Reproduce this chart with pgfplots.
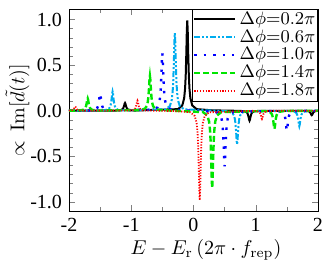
\documentclass[border=0pt]{standalone}
\usepackage{fontspec}
\usepackage{pgfplots}
\pgfplotsset{compat=1.18}
\newfontfamily\tickfont{Liberation Serif}
\begin{document}
\begin{tikzpicture}
\begin{axis}[
  at={(0,0)}, anchor=south west,
  scale only axis, width=124.5pt, height=101pt,
  xmin=-2, xmax=2, ymin=-1.1, ymax=1.115,
  xtick={-2,-1,0,1,2}, xticklabels={-2,-1,0,1,2},
  ytick={-1,-0.5,0,0.5,1}, yticklabels={-1.0,-0.5,0.0,0.5,1.0},
  minor x tick num=1, minor y tick num=4,
  tick align=inside,
  major tick length=3pt, minor tick length=1.8pt,
  tick label style={font=\tickfont\fontsize{10}{11}\selectfont},
  xlabel={$E-E_\mathrm{r}\,(2\pi\cdot f_\mathrm{rep})$},
  ylabel={$\propto\,\mathrm{Im}[\tilde{d}(t)]$},
  xlabel style={at={(axis description cs:0.55,0)}, anchor=center, yshift=-19.5pt},
  ylabel style={at={(axis description cs:-0.207,0.5)}, anchor=center},
  legend style={at={(1,1)}, anchor=north east, draw=black, font=\fontsize{9}{9}\selectfont,
    inner sep=0.5pt, row sep=0pt, column sep=1pt, nodes={inner sep=0.6pt}, cells={anchor=west}},
  legend image code/.code={\draw[#1] plot coordinates {(0cm,0cm) (0.72cm,0cm)};},
]
% 0.2 pi
\addplot[black, line width=1pt] coordinates {
(-2,0)
(-1.25,0.0015)(-1.18,0.005)(-1.15,0.012)(-1.135,0.021)(-1.125,0.033)(-1.115,0.054)(-1.107,0.076)(-1.1,0.085)(-1.093,0.076)(-1.085,0.054)(-1.075,0.033)(-1.065,0.021)(-1.05,0.012)(-1.02,0.005)(-0.95,0.0015)
(-0.25,0.017)(-0.18,0.058)(-0.15,0.137)(-0.135,0.244)(-0.125,0.386)(-0.115,0.634)(-0.107,0.882)(-0.1,0.99)(-0.093,0.882)(-0.085,0.634)(-0.075,0.386)(-0.065,0.244)(-0.05,0.137)(-0.02,0.058)(0.05,0.017)(0.3,0.004)
(0.75,-0.002)(0.82,-0.006)(0.85,-0.015)(0.865,-0.027)(0.875,-0.043)(0.885,-0.070)(0.893,-0.098)(0.9,-0.11)(0.907,-0.098)(0.915,-0.070)(0.925,-0.043)(0.935,-0.027)(0.95,-0.015)(0.98,-0.006)(1.05,-0.002)
(1.75,-0.001)(1.82,-0.003)(1.85,-0.007)(1.865,-0.012)(1.875,-0.020)(1.885,-0.032)(1.893,-0.045)(1.9,-0.05)(1.907,-0.045)(1.915,-0.032)(1.925,-0.020)(1.935,-0.012)(1.95,-0.007)(1.98,-0.003)(2.05,-0.001)
};
\addlegendentry{$\Delta\phi$=0.2$\pi$}
% 0.6 pi
\addplot[cyan, line width=1pt, dash pattern=on 3pt off 1pt on 1pt off 1pt on 1pt off 1pt] coordinates {
(-2,0)
(-1.45,0.004)(-1.38,0.012)(-1.35,0.029)(-1.335,0.052)(-1.325,0.082)(-1.315,0.134)(-1.307,0.187)(-1.3,0.21)(-1.293,0.187)(-1.285,0.134)(-1.275,0.082)(-1.265,0.052)(-1.25,0.029)(-1.22,0.012)(-1.15,0.004)
(-0.45,0.015)(-0.38,0.050)(-0.35,0.117)(-0.335,0.209)(-0.325,0.332)(-0.315,0.544)(-0.307,0.757)(-0.3,0.85)(-0.293,0.757)(-0.285,0.544)(-0.275,0.332)(-0.265,0.209)(-0.25,0.117)(-0.22,0.050)(-0.15,0.015)
(0.55,-0.006)(0.62,-0.022)(0.65,-0.051)(0.665,-0.091)(0.675,-0.144)(0.685,-0.237)(0.693,-0.330)(0.7,-0.37)(0.707,-0.330)(0.715,-0.237)(0.725,-0.144)(0.735,-0.091)(0.75,-0.051)(0.78,-0.022)(0.85,-0.006)
(1.55,-0.003)(1.62,-0.010)(1.65,-0.023)(1.665,-0.042)(1.675,-0.066)(1.685,-0.109)(1.693,-0.151)(1.7,-0.17)(1.707,-0.151)(1.715,-0.109)(1.725,-0.066)(1.735,-0.042)(1.75,-0.023)(1.78,-0.010)(1.85,-0.003)
(2,0)
};
\addlegendentry{$\Delta\phi$=0.6$\pi$}
% 1.0 pi
\addplot[blue, line width=1.2pt, dash pattern=on 1.2pt off 3.5pt] coordinates {
(-2,0)
(-1.65,0.003)(-1.58,0.011)(-1.55,0.026)(-1.535,0.047)(-1.525,0.074)(-1.515,0.122)(-1.507,0.169)(-1.5,0.19)(-1.493,0.169)(-1.485,0.122)(-1.475,0.074)(-1.465,0.047)(-1.45,0.026)(-1.42,0.011)(-1.35,0.003)
(-0.65,0.011)(-0.58,0.037)(-0.55,0.087)(-0.535,0.155)(-0.525,0.246)(-0.515,0.403)(-0.507,0.561)(-0.5,0.63)(-0.493,0.561)(-0.485,0.403)(-0.475,0.246)(-0.465,0.155)(-0.45,0.087)(-0.42,0.037)(-0.35,0.011)
(0.35,-0.011)(0.42,-0.036)(0.45,-0.084)(0.465,-0.150)(0.475,-0.238)(0.485,-0.390)(0.493,-0.544)(0.5,-0.61)(0.507,-0.544)(0.515,-0.390)(0.525,-0.238)(0.535,-0.150)(0.55,-0.084)(0.58,-0.036)(0.65,-0.011)
(1.35,-0.004)(1.42,-0.013)(1.45,-0.030)(1.465,-0.054)(1.475,-0.086)(1.485,-0.141)(1.493,-0.196)(1.5,-0.22)(1.507,-0.196)(1.515,-0.141)(1.525,-0.086)(1.535,-0.054)(1.55,-0.030)(1.58,-0.013)(1.65,-0.004)
(2,0)
};
\addlegendentry{$\Delta\phi$=1.0$\pi$}
% 1.4 pi
\addplot[green!90!black, line width=1.2pt, dash pattern=on 3pt off 1.5pt] coordinates {
(-2,0)
(-1.85,0.002)(-1.78,0.008)(-1.75,0.019)(-1.735,0.033)(-1.725,0.053)(-1.715,0.086)(-1.707,0.120)(-1.7,0.135)(-1.693,0.120)(-1.685,0.086)(-1.675,0.053)(-1.665,0.033)(-1.65,0.019)(-1.62,0.008)(-1.55,0.002)
(-0.85,0.007)(-0.78,0.022)(-0.75,0.052)(-0.735,0.093)(-0.725,0.148)(-0.715,0.243)(-0.707,0.339)(-0.7,0.38)(-0.693,0.339)(-0.685,0.243)(-0.675,0.148)(-0.665,0.093)(-0.65,0.052)(-0.62,0.022)(-0.55,0.007)
(0.15,-0.015)(0.22,-0.050)(0.25,-0.117)(0.265,-0.209)(0.275,-0.332)(0.285,-0.544)(0.293,-0.757)(0.3,-0.85)(0.307,-0.757)(0.315,-0.544)(0.325,-0.332)(0.335,-0.209)(0.35,-0.117)(0.38,-0.050)(0.45,-0.015)
(1.15,-0.0035)(1.22,-0.012)(1.25,-0.028)(1.265,-0.049)(1.275,-0.078)(1.285,-0.128)(1.293,-0.178)(1.3,-0.20)(1.307,-0.178)(1.315,-0.128)(1.325,-0.078)(1.335,-0.049)(1.35,-0.028)(1.38,-0.012)(1.45,-0.0035)
(2,0)
};
\addlegendentry{$\Delta\phi$=1.4$\pi$}
% 1.8 pi
\addplot[red, line width=0.9pt, dash pattern=on 0.6pt off 0.8pt] coordinates {
(-2.05,0.001)(-1.98,0.003)(-1.95,0.006)(-1.935,0.011)(-1.925,0.018)(-1.915,0.029)(-1.907,0.040)(-1.9,0.045)(-1.893,0.040)(-1.885,0.029)(-1.875,0.018)(-1.865,0.011)(-1.85,0.006)(-1.82,0.003)(-1.75,0.001)
(-1.05,0.002)(-0.98,0.006)(-0.95,0.015)(-0.935,0.027)(-0.925,0.043)(-0.915,0.070)(-0.907,0.098)(-0.9,0.11)(-0.893,0.098)(-0.885,0.070)(-0.875,0.043)(-0.865,0.027)(-0.85,0.015)(-0.82,0.006)(-0.75,0.002)
(-0.3,-0.004)(-0.05,-0.017)(0.02,-0.058)(0.05,-0.135)(0.065,-0.241)(0.075,-0.382)(0.085,-0.627)(0.093,-0.873)(0.1,-0.98)(0.107,-0.873)(0.115,-0.627)(0.125,-0.382)(0.135,-0.241)(0.15,-0.135)(0.18,-0.058)(0.25,-0.017)
(0.95,-0.002)(1.02,-0.005)(1.05,-0.012)(1.065,-0.022)(1.075,-0.035)(1.085,-0.058)(1.093,-0.080)(1.1,-0.09)(1.107,-0.080)(1.115,-0.058)(1.125,-0.035)(1.135,-0.022)(1.15,-0.012)(1.18,-0.005)(1.25,-0.002)
(2,0)
};
\addlegendentry{$\Delta\phi$=1.8$\pi$}
\end{axis}
\pgfresetboundingbox
\path (-34.5pt,-29.5pt) rectangle (129pt,105.5pt);
\end{tikzpicture}
\end{document}
